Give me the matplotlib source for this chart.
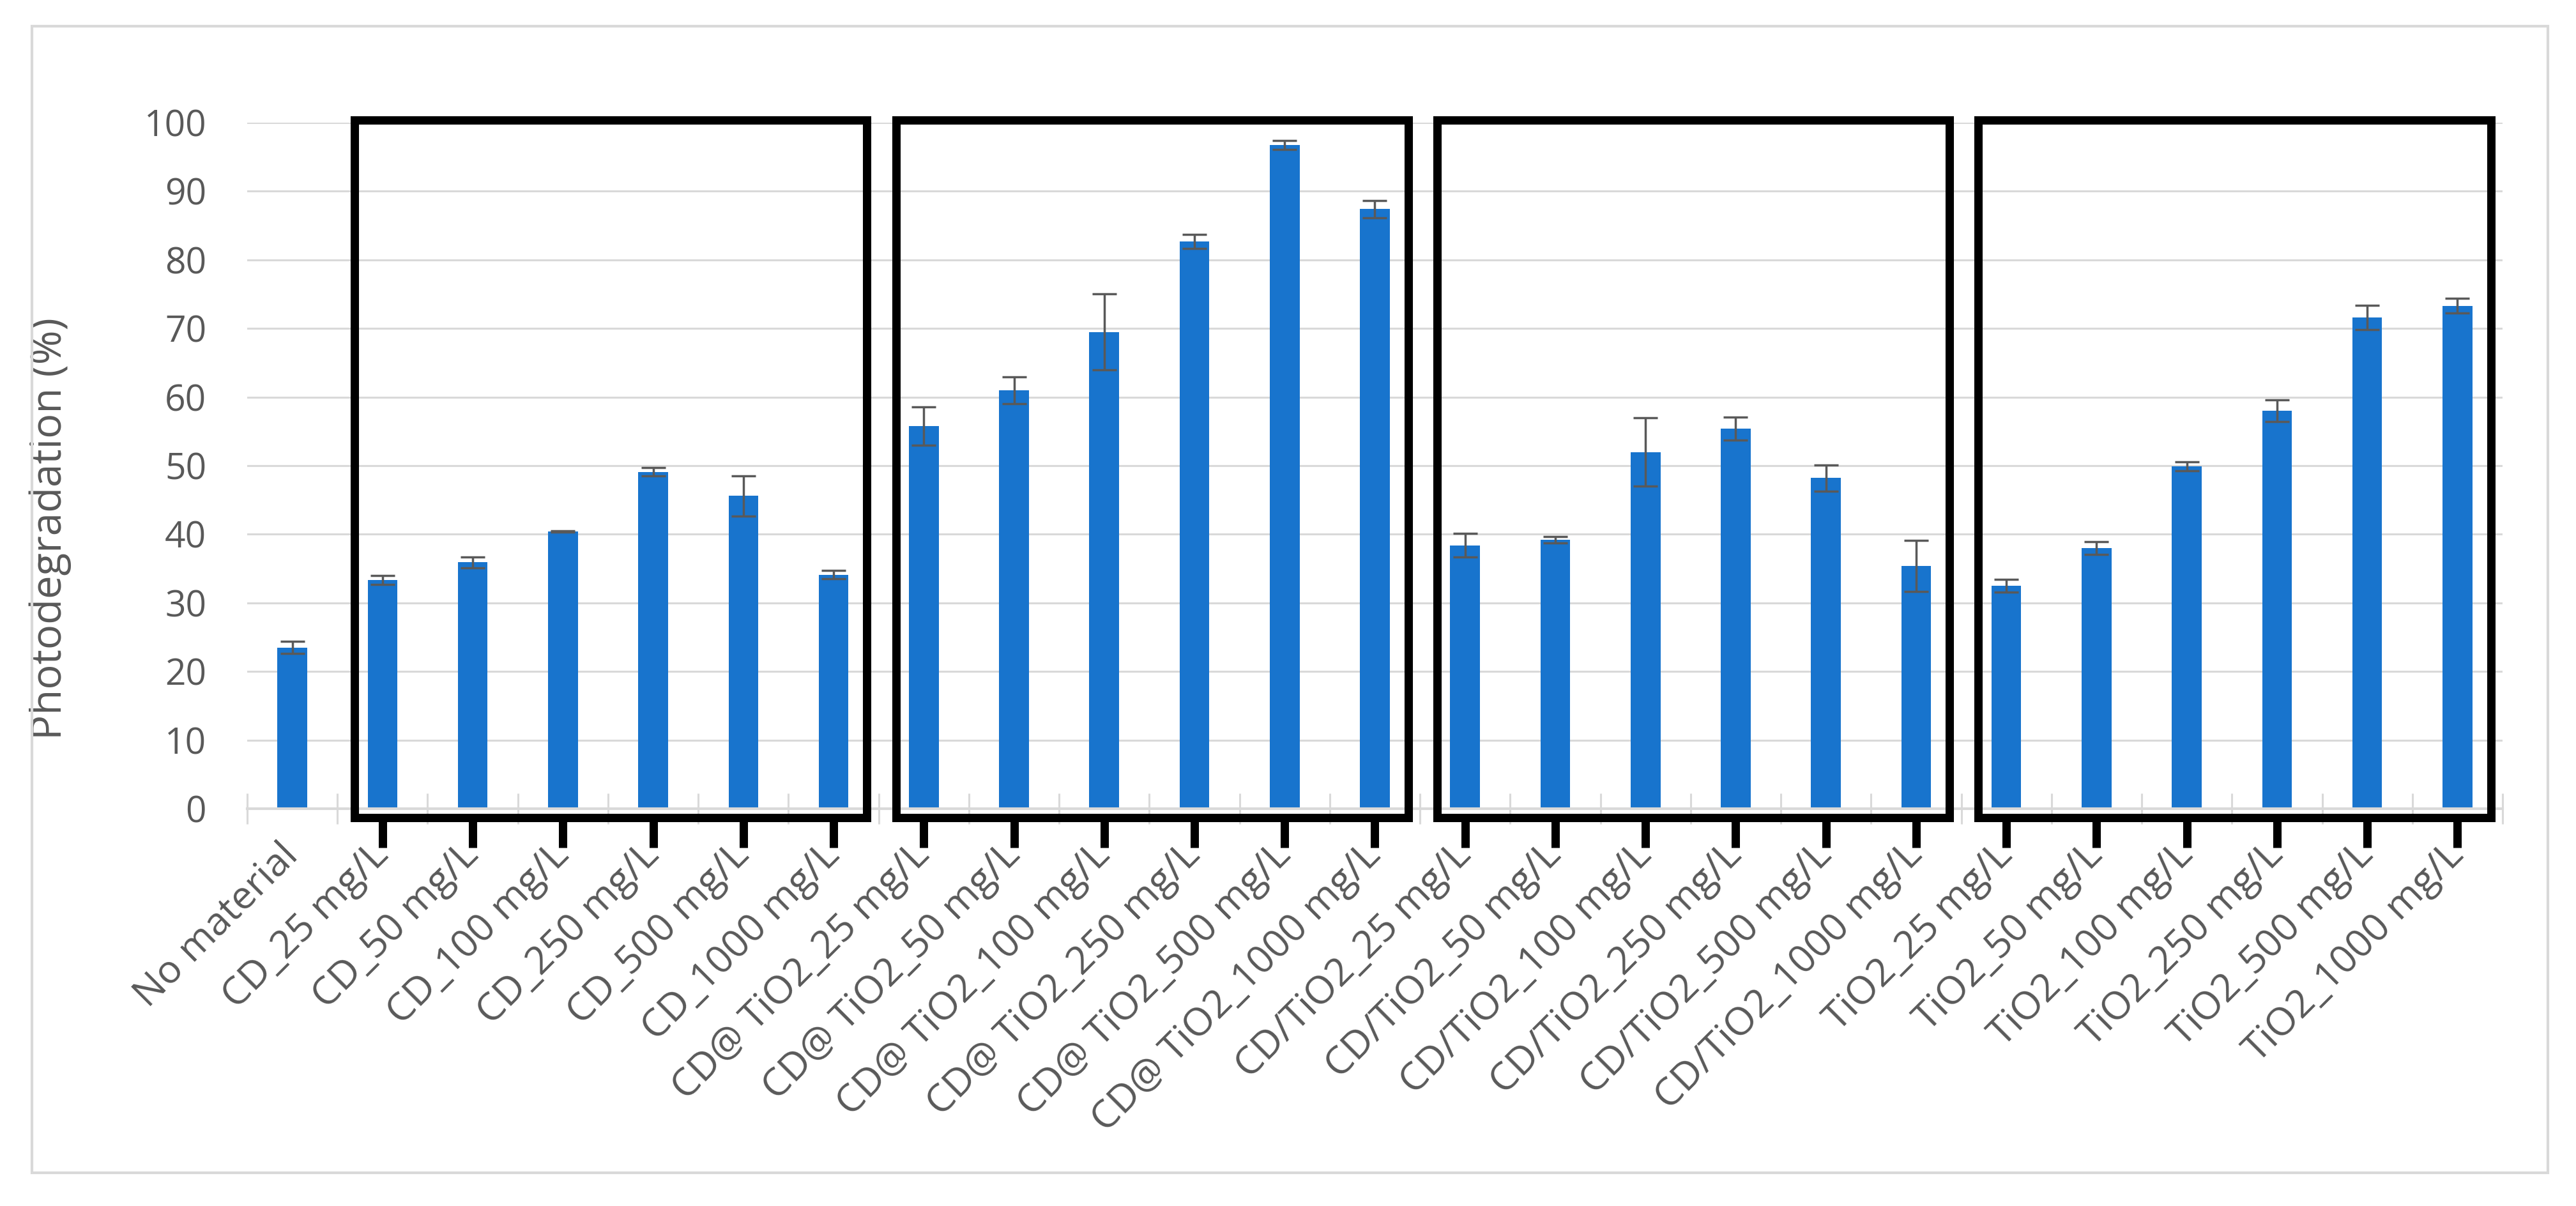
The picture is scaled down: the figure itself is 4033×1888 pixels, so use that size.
import matplotlib
matplotlib.use("Agg")
import matplotlib.pyplot as plt
from matplotlib.patches import Rectangle
import numpy as np

plt.rcParams['font.family'] = ['Open Sans', 'DejaVu Sans']

# data
categories = ['No material',
              'CD_25 mg/L', 'CD_50 mg/L', 'CD_100 mg/L', 'CD_250 mg/L', 'CD_500 mg/L', 'CD_1000 mg/L',
              'CD@ TiO2_25 mg/L', 'CD@ TiO2_50 mg/L', 'CD@ TiO2_100 mg/L', 'CD@ TiO2_250 mg/L',
              'CD@ TiO2_500 mg/L', 'CD@ TiO2_1000 mg/L',
              'CD/TiO2_25 mg/L', 'CD/TiO2_50 mg/L', 'CD/TiO2_100 mg/L', 'CD/TiO2_250 mg/L',
              'CD/TiO2_500 mg/L', 'CD/TiO2_1000 mg/L',
              'TiO2_25 mg/L', 'TiO2_50 mg/L', 'TiO2_100 mg/L', 'TiO2_250 mg/L', 'TiO2_500 mg/L', 'TiO2_1000 mg/L']
degradation = [23.5,
               33.3, 35.9, 40.4, 49.1, 45.6, 34.1,
               55.8, 61.0, 69.5, 82.7, 96.7, 87.4,
               38.4, 39.2, 52.0, 55.4, 48.2, 35.4,
               32.5, 38.0, 49.9, 58.0, 71.6, 73.3]
errors = [0.85,
          0.65, 0.8, 0.1, 0.6, 2.95, 0.6,
          2.8, 1.95, 5.55, 1.05, 0.65, 1.25,
          1.7, 0.5, 4.95, 1.7, 1.9, 3.7,
          0.9, 0.9, 0.65, 1.6, 1.75, 1.05]
# boxed groups (material prefixes)
groups = ['CD_', 'CD@', 'CD/TiO2_', 'TiO2_']
yticks = list(range(0, 101, 10))

W, H = 4033, 1888
fig = plt.figure(figsize=(W / 100, H / 100), dpi=100)
ax = fig.add_axes([387 / W, 1 - 1266 / H, (3918 - 387) / W, (1266 - 192) / H])

gray = '#595959'
light = '#d9d9d9'
x = np.arange(len(categories))

ax.bar(x, degradation, width=0.33, color='#1874cd', zorder=2)
ax.errorbar(x, degradation, yerr=errors, fmt='none', ecolor=gray,
            elinewidth=2.5, capsize=14, capthick=2.5, zorder=3)

ax.set_xlim(-0.5, len(categories) - 0.5)
ax.set_ylim(0, 100)
ax.set_yticks(yticks)
ax.yaxis.grid(True, color=light, lw=2.2)
ax.set_axisbelow(True)
for s in ['top', 'left', 'right']:
    ax.spines[s].set_visible(False)
ax.spines['bottom'].set_color(light)
ax.spines['bottom'].set_linewidth(3)

ax.tick_params(axis='y', length=0, pad=46, labelsize=41, labelcolor=gray)
ax.set_xticks(x)
ax.set_xticklabels(categories)
ax.tick_params(axis='x', which='major', length=0, pad=46, labelsize=44, labelcolor=gray)
plt.setp(ax.get_xticklabels(), rotation=45, ha='right', va='center', rotation_mode='anchor')
ax.set_xticks(np.arange(-0.5, len(categories)), minor=True)
ax.tick_params(axis='x', which='minor', direction='inout', length=35, width=2.2, color=light)

ax.set_ylabel('Photodegradation (%)', fontsize=47, color=gray)
ax.yaxis.set_label_coords(-0.078, 0.408)

# black boxes around each material group, with ticks underneath
for g in groups:
    idx = [i for i, c in enumerate(categories) if c.startswith(g)]
    lo, hi = idx[0], idx[-1]
    ax.add_patch(Rectangle((lo - 0.31, -1.3), hi - lo + 0.68, 101.7, fill=False,
                           edgecolor='black', lw=9.4, clip_on=False, zorder=4))
    ax.vlines(idx, -1.3, -5.7, colors='black', lw=9.4, clip_on=False, zorder=4)

# light chart border
fig.add_artist(Rectangle((50 / W, 1 - 1836 / H), (3989 - 50) / W, (1836 - 41) / H,
                         transform=fig.transFigure, fill=False, edgecolor=light, lw=3))

fig.savefig('out.png', dpi=100)
